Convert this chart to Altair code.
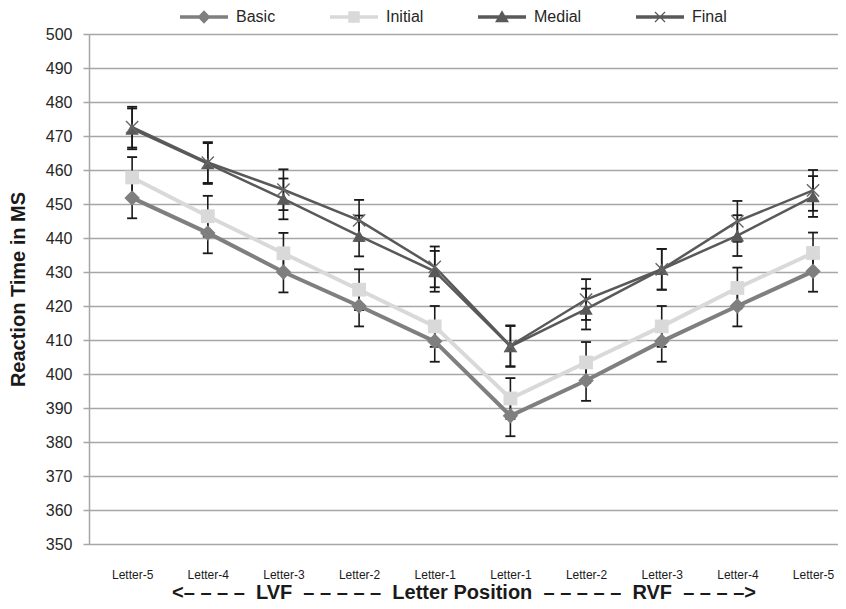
import json
import altair as alt
import pandas as pd

# ---- data ----
positions = ["Letter-5", "Letter-4", "Letter-3", "Letter-2", "Letter-1",
             "Letter-1", "Letter-2", "Letter-3", "Letter-4", "Letter-5"]
series_names = ["Basic", "Initial", "Medial", "Final"]
basic = [451.8, 441.5, 430.0, 420.0, 409.6, 387.7, 398.1, 409.6, 420.0, 430.2]
initial = [457.8, 446.4, 435.5, 424.8, 414.0, 392.8, 403.4, 414.0, 425.3, 435.6]
medial = [472.1, 461.9, 451.5, 440.6, 430.2, 408.1, 419.1, 430.8, 440.7, 452.2]
final = [472.6, 462.2, 454.2, 445.2, 431.5, 408.3, 421.9, 430.8, 444.9, 454.0]
basic_err = [6, 6, 6, 6, 6, 6, 6, 6, 6, 6]
initial_err = [6, 6, 6, 6, 6, 6, 6, 6, 6, 6]
medial_err = [6, 6, 6, 6, 6, 6, 6, 6, 6, 6]
final_err = [6, 6, 6, 6, 6, 6, 6, 6, 6, 6]

values = {"Basic": basic, "Initial": initial, "Medial": medial, "Final": final}
errors = {"Basic": basic_err, "Initial": initial_err, "Medial": medial_err, "Final": final_err}

rows = []
for s in series_names:
    for i, (v, e) in enumerate(zip(values[s], errors[s])):
        rows.append({"series": s, "idx": i, "value": v, "lo": v - e, "hi": v + e})
df = pd.DataFrame(rows)

FONT = "Liberation Sans"
X_PATH = "M-1,-1L1,1M-1,1L1,-1"
styles = {
    "Basic": dict(color="#7f7f7f", width=4, shape="diamond", size=240, filled=True),
    "Initial": dict(color="#d9d9d9", width=4, shape="square", size=190, filled=True),
    "Medial": dict(color="#595959", width=2.5, shape="triangle-up", size=180, filled=True),
    "Final": dict(color="#595959", width=2.5, shape=X_PATH, size=150, filled=False),
}

# legend symbols: line segment + marker, all as filled paths
seg = "M-1,-0.07L1,-0.07L1,0.07L-1,0.07Z"
legend_paths = [
    seg + " M0,-0.28L0.27,0L0,0.28L-0.27,0Z",
    seg + " M-0.24,-0.24L0.24,-0.24L0.24,0.24L-0.24,0.24Z",
    seg + " M0,-0.28L0.29,0.22L-0.29,0.22Z",
    seg + " M-0.192,-0.228L0.228,0.192L0.192,0.228L-0.228,-0.192Z"
          " M-0.228,0.192L0.192,-0.228L0.228,-0.192L-0.192,0.228Z",
]
legend_colors = ["#7f7f7f", "#d9d9d9", "#595959", "#595959"]

nb = "\u00a0"
dash4 = nb.join(["\u2013"] * 4)
dash5 = nb.join(["\u2013"] * 5)
gap = nb * 2
x_title = ("<" + dash4 + gap + "LVF" + gap + dash5 + gap + "Letter Position" + gap
           + dash5 + gap + "RVF" + gap + dash4 + ">")

x_scale = alt.Scale(domain=[-0.57, 9.33], nice=False, zero=False)
y_scale = alt.Scale(domain=[350, 500], nice=False, zero=False)

x_axis = alt.Axis(
    values=list(range(10)),
    labelExpr=json.dumps(positions) + "[datum.value]",
    domain=False, ticks=False, tickSize=0, grid=False,
    labelFont=FONT, labelFontSize=12, labelColor="#1a1a1a", labelPadding=25,
    labelAngle=0, labelOverlap=False,
    title=x_title, titleFont=FONT, titleFontSize=20, titleFontWeight="bold",
    titleColor="#1a1a1a", titlePadding=2,
)
y_axis = alt.Axis(
    values=list(range(350, 501, 10)),
    tickSize=6, tickColor="#a6a6a6", tickWidth=1.5,
    domainColor="#a6a6a6", domainWidth=1.5,
    gridColor="#a6a6a6", gridWidth=1.5,
    labelFont=FONT, labelFontSize=16, labelColor="#262626", labelPadding=11,
    labelOverlap=False,
    title="Reaction Time in MS", titleFont=FONT, titleFontSize=20,
    titleFontWeight="bold", titleColor="#1a1a1a", titlePadding=17,
)


def X(field="idx"):
    return alt.X(f"{field}:Q", scale=x_scale, axis=x_axis)


def Y(field="value"):
    return alt.Y(f"{field}:Q", scale=y_scale, axis=y_axis)


base = alt.Chart(df)

err_rule = base.mark_rule(color="#1a1a1a", strokeWidth=1.6).encode(
    x=X(), y=Y("lo"), y2="hi:Q")
cap_lo = base.mark_tick(orient="horizontal", color="#1a1a1a", size=10,
                        thickness=1.8, opacity=1).encode(x=X(), y=Y("lo"))
cap_hi = base.mark_tick(orient="horizontal", color="#1a1a1a", size=10,
                        thickness=1.8, opacity=1).encode(x=X(), y=Y("hi"))

layers = [err_rule, cap_lo, cap_hi]
for s in series_names:
    st = styles[s]
    layers.append(
        base.transform_filter(alt.datum.series == s)
        .mark_line(color=st["color"], strokeWidth=st["width"])
        .encode(x=X(), y=Y())
    )
for s in series_names:
    st = styles[s]
    if st["filled"]:
        m = base.mark_point(shape=st["shape"], size=st["size"], filled=True,
                            color=st["color"], opacity=1)
    else:
        m = base.mark_point(shape=st["shape"], size=st["size"], filled=False,
                            color="#666666", strokeWidth=1.4, opacity=1)
    layers.append(m.transform_filter(alt.datum.series == s).encode(x=X(), y=Y()))

# hidden layer (clipped away) that only drives the legend
legend_df = pd.DataFrame({"series": series_names, "idx": [-5] * 4, "value": [400] * 4})


def legend():
    return alt.Legend(orient="none", legendX=91, legendY=-41,
                      direction="horizontal", title=None,
                      symbolSize=2304, symbolStrokeWidth=0,
                      symbolOpacity=1, labelFont=FONT,
                      labelFontSize=16, labelColor="#262626",
                      labelOffset=8, columnPadding=54, padding=0)


legend_layer = alt.Chart(legend_df).mark_point(filled=True, clip=True, opacity=1,
                                              size=2304, strokeWidth=0).encode(
    x=X(), y=Y(),
    shape=alt.Shape("series:N", scale=alt.Scale(domain=series_names, range=legend_paths),
                    legend=legend()),
    fill=alt.Fill("series:N", scale=alt.Scale(domain=series_names, range=legend_colors),
                  legend=legend()),
)
layers.append(legend_layer)

chart = alt.layer(*layers).properties(
    width=749, height=510,
    autosize=alt.AutoSizeParams(type="none"),
    padding={"left": 81, "top": 26, "right": 0, "bottom": 57},
).configure_view(strokeWidth=0).configure(background="white")

chart.save("out.html", embed_options={"renderer": "svg", "actions": False})
